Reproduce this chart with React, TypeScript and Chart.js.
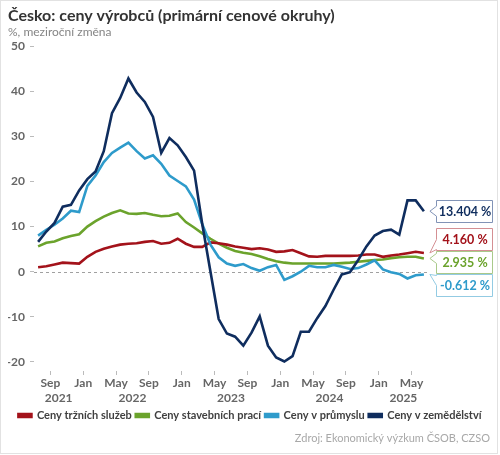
import React, { useEffect, useRef } from "react";
import { Chart, registerables } from "chart.js";

Chart.register(...registerables);

// ---- data ----
const months = [
  "2021-07", "2021-08", "2021-09", "2021-10", "2021-11", "2021-12",
  "2022-01", "2022-02", "2022-03", "2022-04", "2022-05", "2022-06",
  "2022-07", "2022-08", "2022-09", "2022-10", "2022-11", "2022-12",
  "2023-01", "2023-02", "2023-03", "2023-04", "2023-05", "2023-06",
  "2023-07", "2023-08", "2023-09", "2023-10", "2023-11", "2023-12",
  "2024-01", "2024-02", "2024-03", "2024-04", "2024-05", "2024-06",
  "2024-07", "2024-08", "2024-09", "2024-10", "2024-11", "2024-12",
  "2025-01", "2025-02", "2025-03", "2025-04", "2025-05", "2025-06",
];

const seriesLabels = [
  "Ceny tržních služeb",
  "Ceny stavebních prací",
  "Ceny v průmyslu",
  "Ceny v zemědělství",
];

const marketServices = [
  1.0, 1.2, 1.6, 2.0, 1.9, 1.8, 3.3, 4.4, 5.1, 5.6, 6.0, 6.2,
  6.3, 6.6, 6.8, 6.2, 6.4, 7.3, 6.2, 5.5, 5.5, 6.5, 6.3, 6.0,
  5.6, 5.3, 5.0, 5.2, 4.9, 4.4, 4.5, 4.8, 4.1, 3.4, 3.3, 3.5,
  3.5, 3.5, 3.5, 3.6, 3.8, 3.8, 3.3, 3.6, 3.8, 4.1, 4.4, 4.16,
];

const construction = [
  5.6, 6.4, 6.7, 7.4, 7.9, 8.3, 10.0, 11.2, 12.2, 13.0, 13.6, 12.9,
  12.8, 13.0, 12.6, 12.3, 12.4, 12.9, 11.0, 9.8, 8.5, 7.3, 6.2, 5.3,
  4.6, 4.2, 3.9, 3.4, 2.8, 2.3, 2.0, 1.8, 1.8, 1.8, 1.8, 1.8,
  1.8, 1.9, 2.0, 2.2, 2.4, 2.6, 2.7, 3.0, 3.2, 3.3, 3.3, 2.935,
];

const industry = [
  8.0, 9.3, 10.4, 11.8, 13.5, 13.2, 19.0, 21.3, 24.3, 26.3, 27.5, 28.6,
  26.7, 25.1, 25.8, 23.9, 21.3, 20.1, 18.9, 16.0, 10.5, 6.0, 3.2, 1.8,
  1.3, 1.7, 0.8, 0.2, 1.0, 1.5, -1.8, -1.0, 0.0, 1.3, 1.0, 1.0,
  1.5, 1.1, 0.6, 0.8, 1.6, 2.5, 0.5, -0.1, -0.5, -1.5, -0.8, -0.612,
];

const agriculture = [
  6.6, 8.9, 10.8, 14.4, 14.8, 18.0, 20.5, 22.2, 26.7, 35.1, 38.5, 42.8,
  39.7, 37.6, 34.3, 26.3, 29.6, 28.0, 25.4, 22.4, 10.5, 0.0, -10.5, -13.7,
  -14.4, -16.4, -13.5, -9.9, -16.4, -19.0, -19.9, -18.7, -13.3, -13.3, -10.3, -7.6,
  -4.0, -0.6, -0.1, 2.6, 5.6, 8.0, 9.0, 9.3, 8.2, 15.8, 15.8, 13.404,
];

const monthTickMonths = [
  "2021-09", "2022-01", "2022-05", "2022-09", "2023-01", "2023-05",
  "2023-09", "2024-01", "2024-05", "2024-09", "2025-01", "2025-05",
];
const monthNames: Record<string, string> = { "01": "Jan", "05": "May", "09": "Sep" };
const yearLabels = ["2021", "2022", "2023", "2024", "2025"];
const yTickValues = [-20, -10, 0, 10, 20, 30, 40, 50];

const titleText = "Česko: ceny výrobců (primární cenové okruhy)";
const subtitleText = "%, meziroční změna";
const sourceText = "Zdroj: Ekonomický výzkum ČSOB, CZSO";

// ---- styles ----
const FONT = "Lato, 'Open Sans', sans-serif";
const lineColors = ["#a3121a", "#6ba32c", "#2e9bcb", "#0f2d5e"];
const calloutBorders = ["#d48f93", "#a9c98a", "#93cbe3", "#8193b6"];
const drawOrder = [2, 3, 1, 0];

const seriesValues = [marketServices, construction, industry, agriculture];

const monthIndex = (m: string) => months.indexOf(m);
const yearCenters = yearLabels.map((yr) => {
  const idx = months.map((m, i) => (m.startsWith(yr) ? i : -1)).filter((i) => i >= 0);
  return (idx[0] + idx[idx.length - 1] + 1) / 2;
});

const zeroLinePlugin = {
  id: "zeroLine",
  beforeDatasetsDraw(chart: any) {
    const { ctx, chartArea, scales } = chart;
    const y = scales.y.getPixelForValue(0);
    ctx.save();
    ctx.strokeStyle = "#a0a0a0";
    ctx.lineWidth = 1;
    ctx.setLineDash([3, 3]);
    ctx.beginPath();
    ctx.moveTo(chartArea.left, Math.round(y) + 0.5);
    ctx.lineTo(chartArea.right, Math.round(y) + 0.5);
    ctx.stroke();
    ctx.restore();
  },
};

const calloutPlugin = {
  id: "callouts",
  afterDatasetsDraw(chart: any) {
    const ctx = chart.ctx;
    const items = chart.data.datasets.map((ds: any, i: number) => {
      const meta = chart.getDatasetMeta(i);
      const pt = meta.data[meta.data.length - 1];
      const val = ds.data[ds.data.length - 1].y;
      return {
        x: pt.x,
        y: pt.y,
        cy: pt.y,
        color: lineColors[i],
        border: calloutBorders[i],
        text: val.toFixed(3) + " %",
      };
    });
    const GAP = 23;
    const H = 22;
    const sorted = [...items].sort((a: any, b: any) => a.y - b.y);
    let clusters: any[] = sorted.map((it: any) => ({ items: [it], top: it.y }));
    let merged = true;
    while (merged) {
      merged = false;
      for (let k = 0; k < clusters.length - 1; k++) {
        const a = clusters[k];
        const b = clusters[k + 1];
        const aEnd = a.top + (a.items.length - 1) * GAP;
        if (b.top - aEnd < GAP) {
          const all = a.items.concat(b.items);
          const mean = all.reduce((s: number, it: any) => s + it.y, 0) / all.length;
          clusters.splice(k, 2, { items: all, top: mean - ((all.length - 1) * GAP) / 2 });
          merged = true;
          break;
        }
      }
    }
    clusters.forEach((c) => c.items.forEach((it: any, j: number) => (it.cy = c.top + j * GAP)));

    ctx.save();
    items.forEach((it: any) => {
      const left = Math.round(it.x + 12) + 0.5;
      const right = left + 56;
      const top = Math.round(it.cy - H / 2) + 0.5;
      const bottom = top + H;
      const tipX = it.x + 6;
      const yb = Math.min(Math.max(it.y, top + 6), bottom - 6);
      ctx.beginPath();
      ctx.moveTo(left, top);
      ctx.lineTo(right, top);
      ctx.lineTo(right, bottom);
      ctx.lineTo(left, bottom);
      ctx.lineTo(left, yb + 5);
      ctx.lineTo(tipX, it.y);
      ctx.lineTo(left, yb - 5);
      ctx.closePath();
      ctx.fillStyle = "#ffffff";
      ctx.fill();
      ctx.strokeStyle = it.border;
      ctx.lineWidth = 1;
      ctx.stroke();
      ctx.fillStyle = it.color;
      ctx.font = `bold 12.5px ${FONT}`;
      ctx.textAlign = "center";
      ctx.textBaseline = "middle";
      ctx.fillText(it.text, (left + right) / 2 + 0.5, (top + bottom) / 2 + 0.5);
    });
    ctx.restore();
  },
};

const framePlugin = {
  id: "frame",
  afterDraw(chart: any) {
    const ctx = chart.ctx;
    ctx.save();
    ctx.fillStyle = "#a8a8a8";
    ctx.font = `11px ${FONT}`;
    ctx.textAlign = "right";
    ctx.textBaseline = "middle";
    ctx.fillText(sourceText, 490, 438.5);
    ctx.strokeStyle = "#e2e2e2";
    ctx.lineWidth = 1;
    ctx.strokeRect(0.5, 0.5, 497, 453);
    ctx.restore();
  },
};

export default function App() {
  const canvasRef = useRef<HTMLCanvasElement | null>(null);

  useEffect(() => {
    if (!canvasRef.current) return;
    Chart.defaults.font.family = FONT;
    const datasets = seriesLabels.map((label, s) => ({
      label,
      data: months.map((_, i) => ({ x: i + 0.5, y: seriesValues[s][i] })),
      borderColor: lineColors[s],
      backgroundColor: lineColors[s],
      borderWidth: 2.6,
      pointRadius: 0,
      tension: 0,
      order: drawOrder[s],
    }));

    const chart = new Chart(canvasRef.current, {
      type: "line",
      data: { datasets },
      plugins: [zeroLinePlugin, calloutPlugin, framePlugin],
      options: {
        animation: false,
        responsive: false,
        layout: { padding: { top: 0, left: 8, right: 8, bottom: 24 } },
        plugins: {
          tooltip: { enabled: false },
          title: {
            display: true,
            text: titleText,
            align: "start",
            color: "#333333",
            font: { size: 16, weight: "bold", family: FONT },
            padding: { top: 6, bottom: 0 },
          },
          subtitle: {
            display: true,
            text: subtitleText,
            align: "start",
            color: "#858585",
            font: { size: 12, weight: "normal", family: FONT },
            padding: { top: 0, bottom: 6.4 },
          },
          legend: {
            position: "bottom",
            align: "center",
            labels: {
              boxWidth: 13,
              boxHeight: 3,
              padding: 4,
              color: "#404040",
              font: { size: 11, weight: "bold", family: FONT },
              sort: (a: any, b: any) => a.datasetIndex - b.datasetIndex,
            },
          },
        },
        scales: {
          x: {
            type: "linear",
            position: "bottom",
            weight: 0,
            min: 0,
            max: months.length,
            afterBuildTicks: (scale: any) => {
              scale.ticks = monthTickMonths.map((m) => ({ value: monthIndex(m) }));
            },
            afterFit: (scale: any) => {
              scale.height = 20;
            },
            ticks: {
              autoSkip: false,
              maxRotation: 0,
              padding: 1,
              color: "#666666",
              font: { size: 12, weight: "bold", family: FONT },
              callback: (v: any) => {
                const m = months[Math.round(v)];
                return m ? monthNames[m.slice(5)] : "";
              },
            },
            grid: {
              drawOnChartArea: false,
              drawTicks: true,
              tickLength: 4,
              tickColor: "#bbbbbb",
            },
            border: { display: false },
          },
          x2: {
            type: "linear",
            position: "bottom",
            weight: 1,
            min: 0,
            max: months.length,
            afterBuildTicks: (scale: any) => {
              scale.ticks = yearCenters.map((c) => ({ value: c }));
            },
            afterFit: (scale: any) => {
              scale.height = 15;
            },
            ticks: {
              autoSkip: false,
              maxRotation: 0,
              padding: 0,
              color: "#666666",
              font: { size: 12, weight: "bold", family: FONT },
              callback: (_v: any, i: number) => yearLabels[i],
            },
            grid: { display: false, drawTicks: false, tickLength: 0 },
            border: { display: false },
          },
          y: {
            type: "linear",
            position: "left",
            min: -22,
            max: 50,
            afterBuildTicks: (scale: any) => {
              scale.ticks = yTickValues.map((v) => ({ value: v }));
            },
            afterFit: (scale: any) => {
              scale.width = 26;
            },
            ticks: {
              padding: 5,
              color: "#666666",
              font: { size: 12, weight: "bold", family: FONT },
              callback: (v: any) => String(v),
            },
            grid: {
              drawOnChartArea: false,
              drawTicks: true,
              tickLength: 4,
              tickColor: "#bbbbbb",
            },
            border: { display: false },
          },
          yPad: {
            type: "linear",
            position: "right",
            afterFit: (scale: any) => {
              scale.width = 64;
            },
            ticks: { display: false },
            grid: { display: false, drawTicks: false, tickLength: 0 },
            border: { display: false },
          },
        },
      } as any,
    });
    return () => chart.destroy();
  }, []);

  return (
    <div
      style={{
        position: "absolute",
        left: 0,
        top: 0,
        width: 500,
        height: 455,
        background: "#ffffff",
      }}
    >
      <canvas ref={canvasRef} width={500} height={455} style={{ display: "block" }} />
    </div>
  );
}
